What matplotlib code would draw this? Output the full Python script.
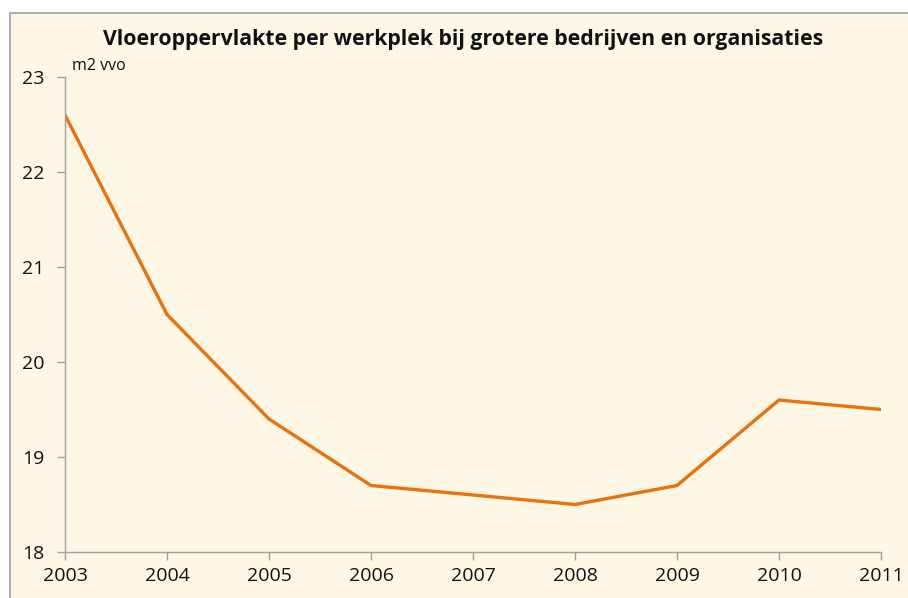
import matplotlib.pyplot as plt
from matplotlib.patches import Rectangle

years = [2003, 2004, 2005, 2006, 2007, 2008, 2009, 2010, 2011]
m2_vvo = [22.6, 20.5, 19.4, 18.7, 18.6, 18.5, 18.7, 19.6, 19.5]
y_ticks = [18, 19, 20, 21, 22, 23]

plt.rcParams['font.family'] = ['Open Sans', 'DejaVu Sans']

W, H = 908, 598
bg = '#fef7e6'
grey = '#a0a0a0'

fig = plt.figure(figsize=(W / 100, H / 100), dpi=100)
fig.patch.set_facecolor('white')
# cream panel with grey border, starting a bit in from top-left
fig.patches.append(Rectangle((10 / W, -0.1), 1.2, 1.1 - 13 / H, transform=fig.transFigure,
                             facecolor=bg, edgecolor=grey, linewidth=1.2, zorder=-5))

ax = fig.add_axes([65 / W, 1 - 552 / H, (881 - 65) / W, (552 - 77) / H])
ax.patch.set_alpha(0)
ax.set_zorder(2)

ax.plot(years, m2_vvo, color='#e8720c', linewidth=2.4, solid_joinstyle='miter')

ax.set_xlim(years[0], years[-1])
ax.set_ylim(18, 23)
ax.set_xticks(years)
ax.set_yticks(y_ticks)

for s in ['top', 'right']:
    ax.spines[s].set_visible(False)
for s in ['left', 'bottom']:
    ax.spines[s].set_color(grey)
    ax.spines[s].set_linewidth(1.0)

ax.tick_params(axis='both', colors=grey, length=6, width=1.0, labelcolor='#111111',
               labelsize=14)
ax.tick_params(axis='x', pad=5)
ax.tick_params(axis='y', pad=9)

fig.text(0.51, 1 - 39 / H, 'Vloeroppervlakte per werkplek bij grotere bedrijven en organisaties',
         ha='center', va='center', fontsize=15.3, fontweight='bold', color='#111111')
fig.text(72 / W, 1 - 66 / H, 'm2 vvo', ha='left', va='center', fontsize=11.5, color='#111111')

fig.savefig('out.png', dpi=100, facecolor=fig.get_facecolor())
